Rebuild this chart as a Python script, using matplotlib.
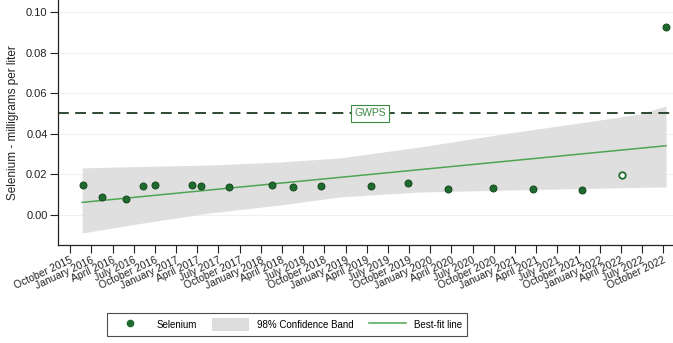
import matplotlib
matplotlib.use("Agg")
import matplotlib.pyplot as plt
from matplotlib.lines import Line2D
from matplotlib.patches import Patch
import numpy as np

plt.rcParams['font.family'] = ['Liberation Sans', 'DejaVu Sans']

# sample dates and selenium concentrations (mg/L)
sample_dates = ['2015-11-27', '2016-02-15', '2016-05-29', '2016-08-12', '2016-10-01',
                '2017-03-09', '2017-04-18', '2017-08-18', '2018-02-16', '2018-05-20',
                '2018-09-17', '2019-04-20', '2019-09-25', '2020-03-18', '2020-09-28',
                '2021-03-17', '2021-10-14', '2022-04-05', '2022-10-13']
selenium = [0.0148, 0.0087, 0.0077, 0.0143, 0.0149,
            0.0146, 0.0144, 0.0136, 0.0148, 0.0136,
            0.0143, 0.0143, 0.0158, 0.0130, 0.0135,
            0.0128, 0.0123, 0.0197, 0.0925]
# open marker point
open_marker = [False] * 17 + [True, False]

# best-fit line end points
fit_dates = ['2015-11-22', '2022-10-13']
fit_values = [0.0062, 0.0341]

# 98% confidence band edges
band_dates = ['2015-11-22', '2016-09-10', '2017-05-26', '2018-03-24', '2018-12-08',
              '2019-11-17', '2020-12-09', '2022-01-01', '2022-06-23', '2022-10-13']
band_low = [-0.0089, -0.0034, 0.0010, 0.0049, 0.0089,
            0.0113, 0.0123, 0.0132, 0.0136, 0.0138]
band_high = [0.0232, 0.0240, 0.0246, 0.0261, 0.0281,
             0.0335, 0.0404, 0.0468, 0.0498, 0.0537]

gwps = 0.05

# quarterly tick labels
tick_dates = []
for yr in range(2015, 2023):
    for mo in (1, 4, 7, 10):
        d = np.datetime64(f'{yr}-{mo:02d}-01')
        if np.datetime64('2015-10-01') <= d <= np.datetime64('2022-10-01'):
            tick_dates.append(d)
month_names = {1: 'January', 4: 'April', 7: 'July', 10: 'October'}

sd = np.array(sample_dates, dtype='datetime64[D]')
sel = np.array(selenium)
is_open = np.array(open_marker)
fd = np.array(fit_dates, dtype='datetime64[D]')
bd = np.array(band_dates, dtype='datetime64[D]')

fig = plt.figure(figsize=(6.73, 3.43), dpi=100)
ax = fig.add_axes([58 / 673, 98 / 343, 1 - 58 / 673, 245 / 343])

for yv in [0.0, 0.02, 0.04, 0.06, 0.08, 0.10]:
    ax.axhline(yv, color='#f0f0f0', lw=0.8, zorder=0)

ax.fill_between(bd, band_low, band_high, color='#dcdcdc', alpha=0.9, lw=0, zorder=1)
ax.plot(fd, fit_values, color='#4fa552', lw=1.1, zorder=2)
ax.axhline(gwps, color='#1f3a22', lw=1.3, ls=(0, (6, 3.5)), zorder=2)
ax.text(np.datetime64('2019-04-16'), gwps, 'GWPS', color='#3d8a45', fontsize=7.5,
        ha='center', va='center', zorder=4,
        bbox=dict(boxstyle='square,pad=0.3', fc='white', ec='#3d8a45', lw=0.8))

ax.scatter(sd[~is_open], sel[~is_open], s=26, color='#1f6b2d', edgecolor='#12401b',
           lw=0.6, zorder=3)
ax.scatter(sd[is_open], sel[is_open], s=22, color='white', edgecolor='#1f6b2d',
           lw=1.3, zorder=3)

ax.set_xlim(np.datetime64('2015-08-10'), np.datetime64('2022-11-12'))
ax.set_ylim(-0.0148, 0.1059)
ax.set_yticks([0.0, 0.02, 0.04, 0.06, 0.08, 0.10])
ax.set_yticklabels(['0.00', '0.02', '0.04', '0.06', '0.08', '0.10'])
ax.set_xticks(tick_dates)
ax.set_xticklabels([f'{month_names[int(str(d)[5:7])]} {str(d)[:4]}' for d in tick_dates],
                   rotation=25, ha='right', va='top', rotation_mode='anchor')

ax.tick_params(axis='both', labelsize=7.5, colors='#222222', length=5.5, width=0.8)
ax.tick_params(axis='y', labelsize=8, pad=2)
ax.tick_params(axis='x', pad=2)
ax.spines['top'].set_visible(False)
ax.spines['right'].set_visible(False)
for s in ('left', 'bottom'):
    ax.spines[s].set_color('#222222')
    ax.spines[s].set_linewidth(0.9)

ax.set_ylabel('Selenium - milligrams per liter', fontsize=8.5, color='#222222', labelpad=5)

handles = [Line2D([], [], ls='none', marker='o', markersize=4.5, color='#1f6b2d'),
           Patch(facecolor='#dcdcdc', edgecolor='none'),
           Line2D([], [], color='#4fa552', lw=1.1)]
labels = ['Selenium', '98% Confidence Band', 'Best-fit line']
leg = fig.legend(handles, labels, loc='center', bbox_to_anchor=(287 / 673, 18.5 / 343),
                 ncol=3, fontsize=7, frameon=True, fancybox=False, handlelength=3.8,
                 handleheight=1.6, handletextpad=0.8, columnspacing=1.6,
                 borderpad=0.5)
leg.get_frame().set_edgecolor('#222222')
leg.get_frame().set_linewidth(0.8)

fig.savefig('out.png', dpi=100)
